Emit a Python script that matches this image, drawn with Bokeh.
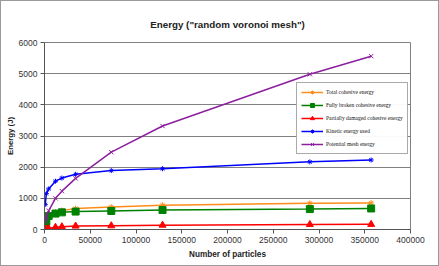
from bokeh.plotting import figure
from bokeh.models import Legend, LegendItem, BasicTickFormatter, FixedTicker, Range1d
from bokeh.embed import file_html
from bokeh.resources import INLINE

title_text = 'Energy ("random voronoi mesh")'
particles = [800, 2000, 4500, 12000, 19000, 34000, 73000, 129000, 290000, 357000]
total_cohesive = [120, 300, 470, 560, 610, 670, 720, 780, 840, 850]
fully_broken = [130, 250, 430, 510, 550, 575, 595, 625, 655, 675]
partially_damaged = [10, 15, 30, 70, 90, 110, 120, 140, 160, 165]
kinetic = [800, 1150, 1300, 1550, 1650, 1770, 1890, 1950, 2170, 2230]
potential = [250, 400, 600, 1000, 1230, 1640, 2480, 3320, 4980, 5560]
series_names = ["Total cohesive energy", "Fully broken cohesive energy",
                "Partially damaged cohesive energy", "Kinetic energy used",
                "Potential mesh energy"]
x_ticks = [0, 50000, 100000, 150000, 200000, 250000, 300000, 350000, 400000]
y_ticks = [0, 1000, 2000, 3000, 4000, 5000, 6000]

p = figure(width=439, height=266, output_backend="svg", toolbar_location=None,
           x_range=Range1d(0, 400000), y_range=Range1d(0, 6000),
           min_border_left=43, min_border_right=30, min_border_top=41, min_border_bottom=38)
p.background_fill_color = "white"
p.border_fill_color = "white"
p.outline_line_color = "#808080"
p.outline_line_width = 1
p.styles = {"border": "1.5px solid #9a9a9a", "box-sizing": "border-box"}

p.title.text = title_text
p.title.align = "center"
p.title.text_font = "Liberation Sans"
p.title.text_font_size = "9.8px"
p.title.text_font_style = "bold"
p.title.text_color = "#222222"
p.title.standoff = 26

for ax in (p.xaxis, p.yaxis):
    ax.major_label_text_font = "Liberation Sans"
    ax.major_label_text_font_size = "8.5px"
    ax.major_label_text_color = "#333333"
    ax.axis_line_color = "#555555"
    ax.major_tick_line_color = "#555555"
    ax.major_tick_out = 4
    ax.major_tick_in = 0
    ax.minor_tick_line_color = None
    ax.axis_label_text_font = "Liberation Sans"
    ax.axis_label_text_font_style = "bold"
    ax.axis_label_text_color = "#222222"
    ax.formatter = BasicTickFormatter(use_scientific=False)
p.xaxis.axis_label_text_font_size = "8.2px"
p.yaxis.axis_label_text_font_size = "7.8px"
p.xaxis.ticker = FixedTicker(ticks=x_ticks)
p.yaxis.ticker = FixedTicker(ticks=y_ticks)
p.xaxis.axis_label = "Number of particles"
p.yaxis.axis_label = "Energy (J)"
p.xaxis.axis_label_standoff = 4
p.yaxis.axis_label_standoff = 1
p.xaxis.major_label_standoff = 3
p.yaxis.major_label_standoff = 3

p.xgrid.grid_line_color = None
p.ygrid.grid_line_color = "#808080"
p.ygrid.grid_line_width = 1

items = []
colors = ["#FF8C1A", "#008000", "#FF0000", "#0000FF", "#8B1F9E"]
data = [total_cohesive, fully_broken, partially_damaged, kinetic, potential]
markers = ["asterisk", "square", "triangle", "asterisk", "x"]
sizes = [6, 7, 7, 5, 6]
for name, c, d, m, s in zip(series_names, colors, data, markers, sizes):
    r1 = p.line(particles, d, line_color=c, line_width=1.5)
    r2 = p.scatter(particles, d, marker=m, size=s, line_color=c, fill_color=c, line_width=1)
    items.append(LegendItem(label=name, renderers=[r1, r2]))

legend = Legend(items=items, location=(252, 75))
legend.label_text_font = "Liberation Serif"
legend.label_text_font_size = "5.5px"
legend.label_text_color = "#111111"
legend.label_height = 10
legend.glyph_height = 10
legend.glyph_width = 22
legend.spacing = 3
legend.padding = 4
legend.margin = 0
legend.label_standoff = 3
legend.border_line_color = "#555555"
legend.background_fill_color = "white"
p.add_layout(legend, "center")

open("out.html", "w").write(file_html(p, INLINE))
